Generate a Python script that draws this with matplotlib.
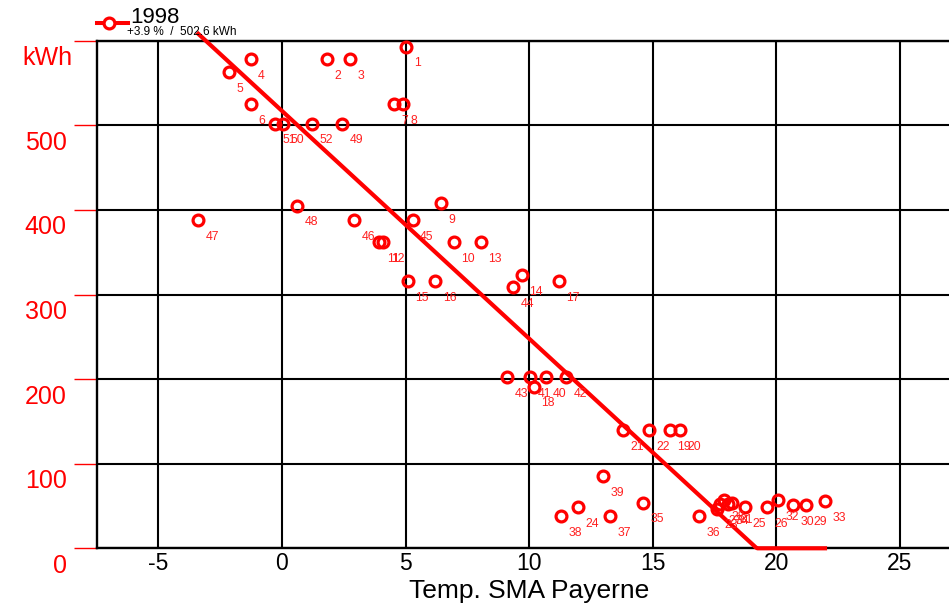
import matplotlib
matplotlib.use('Agg')
import matplotlib.pyplot as plt
import matplotlib.transforms as mtransforms
from matplotlib.lines import Line2D
import numpy as np

plt.rcParams['font.family'] = ['Liberation Sans', 'DejaVu Sans']

# ---------------- data ----------------
point_ids = list(range(1, 53))
temps = [5.04, 1.81, 2.75, -1.27, -2.13, -1.27, 4.53, 4.91, 6.42, 6.96,
         3.94, 4.10, 8.06, 9.70, 5.10, 6.20, 11.20, 10.20, 15.70, 16.10,
         13.80, 14.86, 17.60, 12.00, 18.74, 19.65, 17.75, 17.90, 21.20, 20.70,
         18.20, 20.07, 21.98, 18.05, 14.60, 16.88, 13.28, 11.29, 13.00, 10.67,
         10.04, 11.49, 9.10, 9.37, 5.29, 2.91, -3.39, 0.62, 2.44, 0.03,
         -0.28, 1.20]
energy = [593, 578, 578, 578, 563, 525, 525, 525, 408, 362,
          362, 362, 362, 323, 316, 316, 316, 191, 140, 140,
          140, 140, 47, 48.5, 49, 49, 52, 57, 51, 51,
          53, 57, 56, 52, 54, 38, 38, 38, 85, 202,
          202, 202, 202, 308.5, 388, 388, 388, 405, 502, 502,
          502, 502]

fit_intercept = 517.0
fit_slope = -26.9

legend_label = '1998'
legend_note = '+3.9 %  /  502.6 kWh'
x_ticks = [-5, 0, 5, 10, 15, 20, 25]
y_ticks = [0, 100, 200, 300, 400, 500, 600]
y_tick_labels = ['0', '100', '200', '300', '400', '500', 'kWh']
x_label = 'Temp. SMA Payerne'

RED = '#ff0000'

# ---------------- figure ----------------
W, H = 949, 604
fig = plt.figure(figsize=(W / 100, H / 100), dpi=100)
left, right, top, bottom = 96.7, 949.0, 40.7, 548.3
ax = fig.add_axes([left / W, (H - bottom) / H, (right - left) / W, (bottom - top) / H])
ax.set_xlim(-7.5, 27)
ax.set_ylim(0, 600)

# grid
ax.set_xticks(x_ticks)
ax.set_yticks(y_ticks)
ax.grid(True, color='black', linewidth=1.5)
ax.set_axisbelow(True)
for s in ['left', 'bottom', 'top']:
    ax.spines[s].set_color('black')
    ax.spines[s].set_linewidth(1.7)
ax.spines['right'].set_visible(False)

# ticks
ax.set_xticklabels([str(t) for t in x_ticks])
ax.tick_params(axis='x', length=0, pad=3.0, labelsize=16.5, labelcolor='black')
ax.set_yticklabels(y_tick_labels)
ax.tick_params(axis='y', direction='out', length=16.5, width=1.0, color=RED,
               pad=5, labelsize=18, labelcolor=RED)
off = mtransforms.ScaledTranslation(0, -0.055, fig.dpi_scale_trans)
off_unit = mtransforms.ScaledTranslation(0.06, -0.055, fig.dpi_scale_trans)
ylabels = ax.get_yticklabels()
for i, lbl in enumerate(ylabels):
    lbl.set_verticalalignment('top')
    lbl.set_transform(lbl.get_transform() + (off_unit if i == len(ylabels) - 1 else off))

ax.set_xlabel(x_label, fontsize=19, color='black')
ax.xaxis.set_label_coords((10 + 7.5) / 34.5, -0.06)
ax.xaxis.label.set_verticalalignment('top')

# regression line (clipped at zero)
xs = np.linspace(min(temps), max(temps), 400)
ys = np.maximum(fit_intercept + fit_slope * xs, 0)
ax.plot(xs, ys, color=RED, linewidth=3.0, clip_on=False, zorder=3)

# points
ax.plot(temps, energy, linestyle='none', marker='o', markersize=7.8,
        markerfacecolor='none', markeredgecolor=RED, markeredgewidth=2.3,
        zorder=4, clip_on=False)

for pid, x, y in zip(point_ids, temps, energy):
    ax.annotate(str(pid), (x, y), xytext=(5.4, -14.2), textcoords='offset points',
                ha='left', va='baseline', fontsize=8.8, color='#ff2020', zorder=5)

# legend-like header
lx0, lx1, ly = 97 / W, 128 / W, (H - 23.3) / H
fig.add_artist(Line2D([lx0, lx1], [ly, ly], transform=fig.transFigure,
                      color=RED, linewidth=2.9))
fig.add_artist(Line2D([(lx0 + lx1) / 2 - 0.0042], [ly], transform=fig.transFigure,
                      marker='o', markersize=7.8, markerfacecolor='white',
                      markeredgecolor=RED, markeredgewidth=2.3))
fig.text(130 / W, (H - 22.7) / H, legend_label, fontsize=16, color='black',
         ha='left', va='baseline')
fig.text(126.7 / W, (H - 35) / H, legend_note, fontsize=8.5, color='black',
         ha='left', va='baseline')

fig.savefig('out.png', dpi=100, facecolor='white')
